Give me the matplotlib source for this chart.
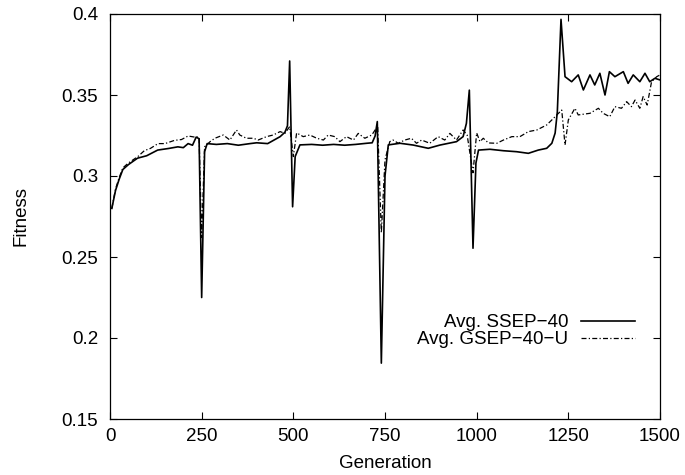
import matplotlib
matplotlib.use("Agg")
import matplotlib.pyplot as plt

# ---------------------------------------------------------------
# Data
# ---------------------------------------------------------------
ssep_gen = [5, 15, 25, 35, 50, 75, 100, 130, 160, 185, 200, 213, 225, 235,
            243, 250, 258, 265, 290, 320, 350, 382, 400, 430, 464, 477, 484,
            490, 498, 505, 518, 550, 580, 610, 640, 670, 700, 715, 723, 729,
            740, 750, 759, 791, 827, 868, 900, 945, 963, 972, 980, 990, 998,
            1005, 1036, 1073, 1109, 1141, 1168, 1191, 1205, 1214, 1220, 1230,
            1241, 1259, 1277, 1291, 1309, 1322, 1336, 1350, 1362, 1377, 1400,
            1413, 1427, 1445, 1459, 1472, 1486, 1500]
ssep_fit = [0.280, 0.291, 0.298, 0.304, 0.307, 0.311, 0.3125, 0.316, 0.317,
            0.318, 0.3175, 0.320, 0.319, 0.324, 0.323, 0.225, 0.315, 0.320,
            0.3195, 0.320, 0.319, 0.320, 0.3205, 0.320, 0.3243, 0.327, 0.331,
            0.371, 0.281, 0.312, 0.3192, 0.3195, 0.319, 0.3195, 0.319, 0.3195,
            0.3202, 0.3205, 0.3247, 0.3336, 0.1845, 0.300, 0.3192, 0.3202,
            0.3191, 0.3171, 0.3191, 0.3212, 0.3243, 0.3325, 0.353, 0.2554,
            0.308, 0.316, 0.3165, 0.3156, 0.315, 0.314, 0.316, 0.3171, 0.3202,
            0.3265, 0.3397, 0.3967, 0.3613, 0.3582, 0.3624, 0.3531, 0.3624,
            0.3562, 0.3634, 0.3500, 0.3644, 0.3613, 0.3644, 0.3572, 0.3624,
            0.3582, 0.3634, 0.3582, 0.3603, 0.3593]

gsep_gen = [5, 15, 25, 35, 50, 76, 94, 110, 131, 150, 176, 195, 213, 231,
            243, 250, 258, 273, 286, 309, 327, 345, 354, 372, 391, 404, 427,
            445, 464, 477, 490, 500, 509, 527, 545, 564, 582, 595, 613, 627,
            645, 664, 677, 695, 714, 723, 730, 740, 750, 763, 772, 786, 804,
            822, 836, 850, 872, 895, 913, 927, 945, 963, 974, 990, 1000, 1009,
            1018, 1032, 1055, 1073, 1096, 1118, 1141, 1164, 1191, 1205, 1220,
            1232, 1241, 1250, 1268, 1277, 1309, 1332, 1345, 1363, 1377, 1395,
            1409, 1422, 1432, 1445, 1454, 1465, 1477, 1491, 1500]
gsep_fit = [0.280, 0.292, 0.299, 0.305, 0.308, 0.312, 0.3157, 0.317, 0.320,
            0.320, 0.322, 0.3225, 0.3247, 0.324, 0.324, 0.262, 0.318, 0.3212,
            0.3233, 0.3253, 0.3222, 0.3284, 0.3253, 0.3233, 0.3233, 0.3222,
            0.3243, 0.3253, 0.3274, 0.3263, 0.3305, 0.312, 0.3266, 0.3243,
            0.3253, 0.3233, 0.3222, 0.3253, 0.3243, 0.3212, 0.3243, 0.3222,
            0.3263, 0.3233, 0.3253, 0.3284, 0.331, 0.265, 0.310, 0.3212,
            0.3222, 0.3202, 0.3222, 0.3233, 0.3202, 0.3222, 0.3202, 0.3243,
            0.3222, 0.3263, 0.3222, 0.3284, 0.3253, 0.302, 0.3266, 0.3212,
            0.3233, 0.3204, 0.3202, 0.3222, 0.3243, 0.3243, 0.3274, 0.3284,
            0.3315, 0.3346, 0.338, 0.3407, 0.3191, 0.3346, 0.3418, 0.3377,
            0.3387, 0.3418, 0.3387, 0.3366, 0.3428, 0.3418, 0.3459, 0.3428,
            0.3469, 0.3418, 0.3490, 0.3438, 0.3582, 0.3613, 0.3624]

series_labels = ["Avg. SSEP\u221240", "Avg. GSEP\u221240\u2212U"]
x_ticks = [0, 250, 500, 750, 1000, 1250, 1500]
y_ticks = [0.15, 0.2, 0.25, 0.3, 0.35, 0.4]
y_tick_labels = ["0.15", "0.2", "0.25", "0.3", "0.35", "0.4"]

# ---------------------------------------------------------------
# Plot
# ---------------------------------------------------------------
plt.rcParams["font.family"] = ["Liberation Sans", "DejaVu Sans"]
fs = 13.5

fig = plt.figure(figsize=(6.85, 4.75), dpi=100)
ax = fig.add_axes([110 / 685, 1 - 419 / 475, 550 / 685, 405 / 475])

ax.plot(ssep_gen, ssep_fit, color="black", lw=1.2, label=series_labels[0])
ax.plot(gsep_gen, gsep_fit, color="black", lw=0.9,
        linestyle=(0, (4, 1.8, 1, 1.8)), label=series_labels[1])

ax.set_xlim(0, 1500)
ax.set_ylim(0.15, 0.4)
ax.set_xticks(x_ticks)
ax.set_yticks(y_ticks)
ax.set_yticklabels(y_tick_labels)
ax.tick_params(direction="in", length=4.7, width=0.8, top=True, right=True,
               labelsize=fs)
ax.tick_params(axis="x", pad=6.8)
ax.tick_params(axis="y", pad=8.5)
for sp in ax.spines.values():
    sp.set_linewidth(0.9)

ax.set_xlabel("Generation", fontsize=fs)
ax.set_ylabel("Fitness", fontsize=fs)
ax.xaxis.set_label_coords(0.5, -0.0877)
ax.yaxis.set_label_coords(-0.147, 0.5)

ax.legend(loc="center right", bbox_to_anchor=(0.9545, 0.2168),
          frameon=False, markerfirst=False, fontsize=fs, borderpad=0,
          borderaxespad=0, handlelength=2.88, handletextpad=0.66,
          labelspacing=0.0)

fig.savefig("out.png", dpi=100)
plt.close(fig)
